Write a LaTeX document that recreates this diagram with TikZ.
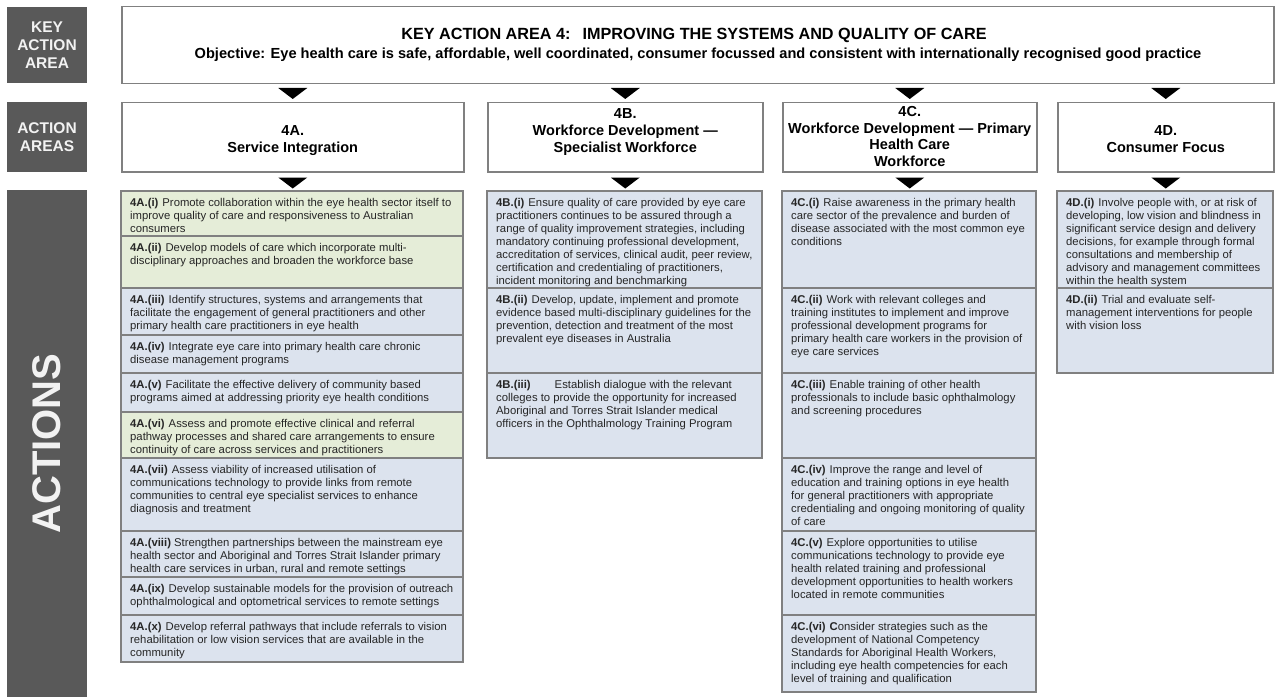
\documentclass[tikz,border=0pt]{standalone}
\usepackage{fontspec}
\setmainfont{Liberation Sans}
\usetikzlibrary{calc}
\definecolor{darkfill}{HTML}{595959}
\definecolor{lighttxt}{HTML}{F2F2F2}
\definecolor{edge}{HTML}{808080}
\definecolor{greenrow}{HTML}{E5EDD8}
\definecolor{bluerow}{HTML}{DCE3EE}
\definecolor{bodytxt}{HTML}{262626}
\newcommand\actlbl[1]{\textbf{#1}\hspace{4pt}}
\newcommand\actrow[7]{%
  \draw[rowline,fill=#6] (#2,#3) rectangle (#4,#5);
  \node[acttext] (#1) at (#2+9,#3+7) {#7};}
\tikzset{
  darkbox/.style={fill=darkfill, draw=none, text=lighttxt, align=center, inner sep=0,
    font=\fontsize{15.5}{18}\selectfont\bfseries},
  whitebox/.style={fill=white, draw=edge, line width=1.5pt, inner sep=0},
  headtxt/.style={align=center, inner sep=0, text=black, font=\fontsize{14.6}{16}\selectfont\bfseries},
  areatxt/.style={align=center, inner sep=0, text=black, anchor=base, font=\fontsize{14.5}{16.5}\selectfont\bfseries},
  rowline/.style={draw=edge, line width=1.4pt},
  acttext/.style={anchor=north west, inner sep=0, align=left, text=bodytxt,
    font=\fontsize{11.3}{13}\selectfont},
  tri/.style={fill=black, draw=none}
}
\begin{document}
\begin{tikzpicture}[x=1pt,y=-1pt]
\useasboundingbox (0,0) rectangle (1276,698);
\fill[white] (0,0) rectangle (1276,698);

% left dark labels
\node[darkbox, minimum width=80, minimum height=76] (kaa) at (47,45) {KEY\\ACTION\\AREA};
\node[darkbox, minimum width=80, minimum height=70] (aas) at (47,137) {ACTION\\AREAS};
\node[darkbox, minimum width=80, minimum height=507] (acts) at (47,443.5) {};
\node[rotate=90, inner sep=0, text=lighttxt, font=\fontsize{40}{40}\selectfont\bfseries] (actslbl) at (acts.center) {ACTIONS};

% key action area header
\node[whitebox, minimum width=1152, minimum height=77, anchor=north west] (kar) at (121,6) {};
\node[headtxt, font=\fontsize{16.2}{18}\selectfont\bfseries] (kart) at (694,35) {KEY ACTION AREA 4:\hspace{12pt}IMPROVING THE SYSTEMS AND QUALITY OF CARE};
\node[headtxt] (karo) at (698,55) {Objective: Eye health care is safe, affordable, well coordinated, consumer focussed and consistent with internationally recognised good practice};

% action areas
\node[whitebox, minimum width=342, minimum height=69, anchor=north west] (hA) at (121,102) {};
\node[whitebox, minimum width=275, minimum height=69, anchor=north west] (hB) at (487,102) {};
\node[whitebox, minimum width=254, minimum height=69, anchor=north west] (hC) at (782,102) {};
\node[whitebox, minimum width=216, minimum height=69, anchor=north west] (hD) at (1057,102) {};

\node[areatxt] (hAt) at ($(hA.north)+(0,50)$) {4A.\\Service Integration};
\node[areatxt] (hBt) at ($(hB.north)+(0,50)$) {4B.\\Workforce Development ---\\Specialist Workforce};
\node[areatxt] (hCt) at ($(hC.north)+(0,64)$) {4C.\\Workforce Development --- Primary\\Health Care\\Workforce};
\node[areatxt] (hDt) at ($(hD.north)+(0,50)$) {4D.\\Consumer Focus};

% arrows from header to action areas and on to actions
\foreach \n in {hA,hB,hC,hD}{
  \fill[tri] ($(\n.north)+(-14.5,-14)$) -- ($(\n.north)+(14.5,-14)$) -- ($(\n.north)+(0,-3)$) -- cycle;
  \fill[tri] ($(\n.south)+(-14.5,5)$) -- ($(\n.south)+(14.5,5)$) -- ($(\n.south)+(0,16)$) -- cycle;
}

% 4A actions
\actrow{a1}{121}{191}{463}{236}{greenrow}{\actlbl{4A.(i)}Promote collaboration within the eye health sector itself to\\improve quality of care and responsiveness to Australian\\consumers}
\actrow{a2}{121}{236}{463}{288}{greenrow}{\actlbl{4A.(ii)}Develop models of care which incorporate multi-\\disciplinary approaches and broaden the workforce base}
\actrow{a3}{121}{288}{463}{335}{bluerow}{\actlbl{4A.(iii)}Identify structures, systems and arrangements that\\facilitate the engagement of general practitioners and other\\primary health care practitioners in eye health}
\actrow{a4}{121}{335}{463}{373}{bluerow}{\actlbl{4A.(iv)}Integrate eye care into primary health care chronic\\disease management programs}
\actrow{a5}{121}{373}{463}{412}{bluerow}{\actlbl{4A.(v)}Facilitate the effective delivery of community based\\programs aimed at addressing priority eye health conditions}
\actrow{a6}{121}{412}{463}{458}{greenrow}{\actlbl{4A.(vi)}Assess and promote effective clinical and referral\\pathway processes and shared care arrangements to ensure\\continuity of care across services and practitioners}
\actrow{a7}{121}{458}{463}{531}{bluerow}{\actlbl{4A.(vii)}Assess viability of increased utilisation of\\communications technology to provide links from remote\\communities to central eye specialist services to enhance\\diagnosis and treatment}
\actrow{a8}{121}{531}{463}{577}{bluerow}{\textbf{4A.(viii)} Strengthen partnerships between the mainstream eye\\health sector and Aboriginal and Torres Strait Islander primary\\health care services in urban, rural and remote settings}
\actrow{a9}{121}{577}{463}{615}{bluerow}{\actlbl{4A.(ix)}Develop sustainable models for the provision of outreach\\ophthalmological and optometrical services to remote settings}
\actrow{a10}{121}{615}{463}{662}{bluerow}{\actlbl{4A.(x)}Develop referral pathways that include referrals to vision\\rehabilitation or low vision services that are available in the\\community}

% 4B actions
\actrow{b1}{487}{191}{762}{288}{bluerow}{\actlbl{4B.(i)}Ensure quality of care provided by eye care\\practitioners continues to be assured through a\\range of quality improvement strategies, including\\mandatory continuing professional development,\\accreditation of services, clinical audit, peer review,\\certification and credentialing of practitioners,\\incident monitoring and benchmarking}
\actrow{b2}{487}{288}{762}{373}{bluerow}{\actlbl{4B.(ii)}Develop, update, implement and promote\\evidence based multi-disciplinary guidelines for the\\prevention, detection and treatment of the most\\prevalent eye diseases in Australia}
\actrow{b3}{487}{373}{762}{458}{bluerow}{\textbf{4B.(iii)}\hspace{24pt}Establish dialogue with the relevant\\colleges to provide the opportunity for increased\\Aboriginal and Torres Strait Islander medical\\officers in the Ophthalmology Training Program}

% 4C actions
\actrow{c1}{782}{191}{1036}{288}{bluerow}{\actlbl{4C.(i)}Raise awareness in the primary health\\care sector of the prevalence and burden of\\disease associated with the most common eye\\conditions}
\actrow{c2}{782}{288}{1036}{373}{bluerow}{\actlbl{4C.(ii)}Work with relevant colleges and\\training institutes to implement and improve\\professional development programs for\\primary health care workers in the provision of\\eye care services}
\actrow{c3}{782}{373}{1036}{458}{bluerow}{\actlbl{4C.(iii)}Enable training of other health\\professionals to include basic ophthalmology\\and screening procedures}
\actrow{c4}{782}{458}{1036}{531}{bluerow}{\actlbl{4C.(iv)}Improve the range and level of\\education and training options in eye health\\for general practitioners with appropriate\\credentialing and ongoing monitoring of quality\\of care}
\actrow{c5}{782}{531}{1036}{615}{bluerow}{\actlbl{4C.(v)}Explore opportunities to utilise\\communications technology to provide eye\\health related training and professional\\development opportunities to health workers\\located in remote communities}
\actrow{c6}{782}{615}{1036}{692}{bluerow}{\actlbl{4C.(vi)}\textbf{C}onsider strategies such as the\\development of National Competency\\Standards for Aboriginal Health Workers,\\including eye health competencies for each\\level of training and qualification}

% 4D actions
\actrow{d1}{1057}{191}{1273}{288}{bluerow}{\actlbl{4D.(i)}Involve people with, or at risk of\\developing, low vision and blindness in\\significant service design and delivery\\decisions, for example through formal\\consultations and membership of\\advisory and management committees\\within the health system}
\actrow{d2}{1057}{288}{1273}{373}{bluerow}{\actlbl{4D.(ii)}Trial and evaluate self-\\management interventions for people\\with vision loss}
\end{tikzpicture}
\end{document}
